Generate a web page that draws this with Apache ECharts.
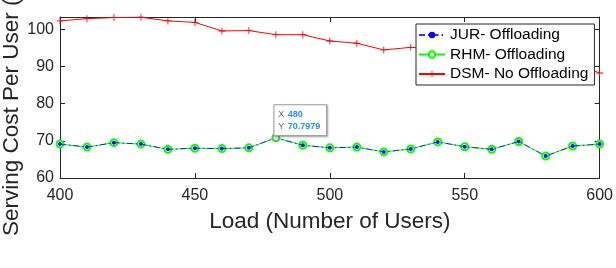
<!DOCTYPE html>
<html><head><meta charset="utf-8">
<script src="https://cdn.jsdelivr.net/npm/echarts@6/dist/echarts.min.js"></script>
<style>html,body{margin:0;padding:0;background:#fff}#c{width:616px;height:268px}</style>
</head><body><div id="c"></div>
<script>
const loads = [400,410,420,430,440,450,460,470,480,490,500,510,520,530,540,550,560,570,580,590,600];
const jurValues = [69.1,68.3,69.5,69.1,67.7,68.0,67.9,68.1,70.7979,68.8,68.1,68.3,67.0,67.8,69.7,68.4,67.7,69.8,65.9,68.6,69.1];
const rhmValues = [69.1,68.3,69.5,69.1,67.7,68.0,67.9,68.1,70.7979,68.8,68.1,68.3,67.0,67.8,69.7,68.4,67.7,69.8,65.9,68.6,69.1];
const dsmValues = [102.2,102.8,103.1,103.2,102.2,101.8,99.5,99.6,98.5,98.5,96.8,96.2,94.4,95.1,94.6,94.0,93.4,92.8,92.1,91.2,88.2];
const seriesNames = ['JUR- Offloading','RHM- Offloading','DSM- No Offloading'];
const xTicks = {min:400, max:600, interval:50};
const yTicks = {min:60, max:103.25, interval:10};
const xTitle = 'Load (Number of Users)';
const yTitle = 'Serving Cost Per User ($)';
const tipX = 480, tipY = 70.7979;

const pairs = v => loads.map((x,i)=>[x,v[i]]);
const txt = '#262626';
const plusPath = 'path://M4.4,0 H5.6 V4.4 H10 V5.6 H5.6 V10 H4.4 V5.6 H0 V4.4 H4.4 Z';

const chart = echarts.init(document.getElementById('c'), null, {renderer:'canvas'});
const baseX = {type:'value', min:xTicks.min, max:xTicks.max, interval:xTicks.interval,
  axisLine:{show:true, onZero:false, lineStyle:{color:txt, width:1}},
  axisTick:{show:true, inside:true, length:5, lineStyle:{color:txt}},
  splitLine:{show:false}};
const baseY = {type:'value', min:yTicks.min, max:yTicks.max, interval:yTicks.interval,
  axisLine:{show:true, onZero:false, lineStyle:{color:txt, width:1}},
  axisTick:{show:true, inside:true, length:5, lineStyle:{color:txt}},
  splitLine:{show:false}};
chart.setOption({
  animation:false,
  backgroundColor:'#fff',
  textStyle:{fontFamily:'Liberation Sans, Arial, sans-serif'},
  grid:{left:60, right:14, top:17, bottom:90},
  legend:{
    data:seriesNames, orient:'vertical', left:416, top:24,
    backgroundColor:'#fff', borderColor:txt, borderWidth:1,
    padding:[3,6,3,2], itemWidth:26, itemHeight:8, itemGap:3.5,
    textStyle:{fontSize:15.5, color:'#000', lineHeight:16, fontFamily:'Liberation Sans, Arial, sans-serif'}
  },
  xAxis:[
    Object.assign({}, baseX, {position:'bottom', name:xTitle, nameLocation:'middle', nameGap:32,
      nameTextStyle:{fontSize:22.5, color:txt},
      axisLabel:{show:true, fontSize:16, color:txt, margin:10}}),
    Object.assign({}, baseX, {position:'top', axisLabel:{show:false}})
  ],
  yAxis:[
    Object.assign({}, baseY, {position:'left',
      axisLabel:{show:true, fontSize:16, color:txt, margin:6, showMaxLabel:false}}),
    Object.assign({}, baseY, {position:'right', axisLabel:{show:false}})
  ],
  graphic:[{type:'text', x:12, y:236, rotation:Math.PI/2,
    style:{text:yTitle, fontSize:22.5, fill:txt, align:'left', verticalAlign:'middle',
      textAlign:'left', textVerticalAlign:'middle', fontFamily:'Liberation Sans, Arial, sans-serif'}}],
  series:[
    {name:seriesNames[1], type:'line', data:pairs(rhmValues), z:2,
      symbol:'emptyCircle', symbolSize:7,
      lineStyle:{color:'#00ff00', width:1},
      itemStyle:{color:'#00ff00', borderColor:'#00ff00', borderWidth:2}},
    {name:seriesNames[2], type:'line', data:pairs(dsmValues), z:2,
      symbol:plusPath, symbolSize:7,
      lineStyle:{color:'#ff0000', width:1},
      itemStyle:{color:'#ff0000'}},
    {name:seriesNames[0], type:'line', data:pairs(jurValues), z:3,
      symbol:'circle', symbolSize:4,
      lineStyle:{color:'#0000ff', width:1, type:[6,3,1.5,3], opacity:0.8},
      itemStyle:{color:'#0000ff'},
      markPoint:{
        symbol:'circle', symbolSize:6, silent:true,
        itemStyle:{color:'#e8e8e8', borderColor:'#909090', borderWidth:1},
        label:{show:true, position:[2,1], align:'left', verticalAlign:'bottom',
          backgroundColor:'#fff', borderColor:'#a0a0a0', borderWidth:1,
          shadowColor:'rgba(0,0,0,0.25)', shadowBlur:2, shadowOffsetX:1, shadowOffsetY:1,
          padding:[3,6,3,4], lineHeight:12,
          formatter: p => '{k|X} {v|' + tipX + '}\n{k|Y} {v|' + tipY + '}',
          rich:{k:{color:'#666', fontSize:9, lineHeight:12}, v:{color:'#1e90ff', fontSize:9, fontWeight:'bold', lineHeight:12}}},
        data:[{coord:[tipX, tipY], value:tipY}]
      }}
  ]
});
</script></body></html>
